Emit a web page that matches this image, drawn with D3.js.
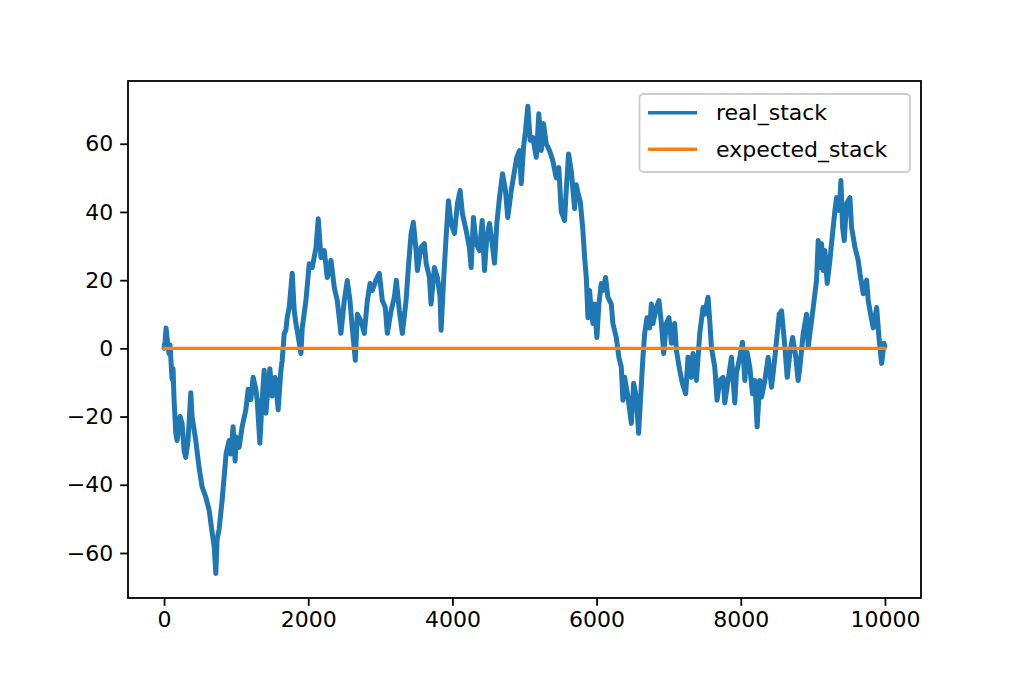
<!DOCTYPE html>
<html>
<head>
<meta charset="utf-8">
<script src="https://cdn.jsdelivr.net/npm/d3@7"></script>
<style>
html,body{margin:0;padding:0;background:#fff;}
text{font-family:"DejaVu Sans",sans-serif;}
</style>
</head>
<body>
<svg id="chart" width="1024" height="683"></svg>
<script>
// ---- data ----
const steps = [0,14,28,42,69,83,111,125,139,163,181,222,250,278,301,333,371,389,440,486,528,579,625,667,695,718,736,764,806,833,861,903,926,958,986,1000,1042,1083,1135,1167,1204,1236,1274,1292,1329,1361,1389,1413,1445,1468,1500,1542,1583,1621,1639,1667,1690,1708,1736,1778,1806,1829,1847,1899,1917,1968,2014,2056,2108,2139,2177,2222,2264,2316,2361,2403,2454,2500,2542,2579,2611,2653,2681,2732,2778,2820,2857,2889,2940,2986,3028,3069,3097,3149,3195,3222,3264,3306,3357,3389,3427,3458,3496,3514,3565,3611,3635,3681,3704,3750,3792,3829,3843,3875,3912,3945,3982,4028,4070,4107,4139,4190,4236,4260,4292,4329,4375,4413,4445,4477,4514,4552,4584,4616,4653,4695,4736,4768,4816,4861,4893,4931,4955,4987,5014,5046,5079,5116,5163,5199,5232,5264,5301,5347,5393,5440,5476,5510,5556,5579,5611,5649,5695,5718,5736,5774,5810,5834,5857,5880,5903,5926,5949,5972,6004,6032,6065,6087,6125,6157,6204,6226,6273,6309,6343,6365,6389,6435,6458,6482,6514,6551,6583,6611,6643,6667,6699,6736,6760,6782,6829,6865,6899,6931,6968,7004,7038,7083,7107,7153,7190,7236,7268,7315,7337,7385,7431,7477,7500,7546,7570,7593,7639,7671,7709,7755,7778,7824,7871,7917,7940,7986,8024,8056,8088,8125,8163,8195,8227,8265,8288,8334,8380,8427,8473,8533,8566,8612,8644,8681,8719,8764,8796,8820,8866,8913,8935,8959,9005,9051,9074,9098,9121,9143,9167,9199,9236,9282,9306,9329,9365,9389,9412,9435,9468,9514,9537,9584,9629,9653,9699,9746,9768,9801,9838,9885,9917,9954,9986,9999];
const realStack = [0,2,6,3,-1.5,1,-9,-6,-15,-25,-27,-20,-22,-30,-32,-27,-13,-20,-27,-35,-40.6,-43.6,-47.4,-54,-58,-66,-56,-53,-44.5,-37.8,-30.8,-27,-31,-23,-33,-26,-29,-23,-18,-12,-15,-8.5,-12,-15.2,-27.8,-15,-6.4,-19,-11,-6,-14,-8.5,-18,-6.4,-3.5,4.4,5.3,9,12,22,11,7.3,5.3,-1.5,6,14,24.8,23.7,29.6,38,26.6,28.7,20.8,25.8,17.9,14,4.4,14,19.9,14,6,-3.5,10,8,4.4,14,19,17,20,22,14,12,4.4,11,15,20,11,4.4,14,23.7,33.6,37,28.7,22.8,29.6,30.7,25,20.8,13,23.7,20.8,15,5.3,19,32.5,43.3,36.6,33.7,42.5,46.3,39.5,34.6,29.6,23.7,38.4,30.7,28.7,37.5,22.8,32.5,36.6,30.7,25,36.6,44.2,51.2,46.3,38.4,46.3,52,56,58,48.3,59,63.8,71,61,61.8,56,68.8,58,65.9,60,58,55,50,53,40,37.5,46.3,57,52,41,48,46,43,34.6,26.6,20.8,9,17,11,7.3,13,3.2,13,19,17,20.8,15,13,7.3,3.2,-2.6,-5.5,-15.2,-8.5,-14.3,-18,-22,-10.2,-14.3,-24.9,-14.3,-2.6,4.4,9,6,13,7.3,12,14,7.3,-1.5,7.3,9,1.5,7.3,-0.6,-6.4,-10.2,-13.3,-2.6,-8.5,-1.5,-9.4,4.4,12,10,15,8,0.3,-5.5,-15.2,-9.4,-8.5,-16,-9.4,-2.6,-16,-7.3,-2.6,1.8,-9.4,-1.2,-5.5,-13.3,-9.4,-23,-9.4,-14.3,-9.4,-2.6,-11.4,-2.6,10,11,0.3,-8.5,-1.5,3.2,-2.6,-9.4,-5.5,4.4,10,0.3,4.4,12,20,31.6,23.7,30.7,22.8,28.7,19,25.8,35.5,40.4,44.2,40.4,49.2,35.5,31.6,42.5,44.2,35.5,29.6,25.8,22,16,20,14,10,6,12,3.2,-4.4,1.5,0.5];
const expectedSteps = [0, 9999];
const expectedStack = [0, 0];
const xTicks = [0, 2000, 4000, 6000, 8000, 10000];
const yTicks = [-60, -40, -20, 0, 20, 40, 60];
const seriesNames = ["real_stack", "expected_stack"];
const seriesColors = ["#1f77b4", "#ff7f0e"];

// ---- layout ----
const L = 128, R = 921, T = 81, B = 598;
const svg = d3.select("#chart");
const x = d3.scaleLinear().domain([-500, 10500]).range([L, R]);
const y = d3.scaleLinear().domain([-73.2, 78.4]).range([B, T]);

svg.append("clipPath").attr("id","clip").append("rect")
  .attr("x", L).attr("y", T).attr("width", R - L).attr("height", B - T);

const line = d3.line().x(d => x(d[0])).y(d => y(d[1]));
const real = steps.map((s, i) => [s, realStack[i]]);
const expected = expectedSteps.map((s, i) => [s, expectedStack[i]]);

const g = svg.append("g").attr("clip-path", "url(#clip)");
g.append("path").datum(real).attr("d", line)
  .attr("fill", "none").attr("stroke", seriesColors[0])
  .attr("stroke-width", 5).attr("stroke-linejoin", "round").attr("stroke-linecap", "round");
g.append("path").datum(expected).attr("d", line)
  .attr("fill", "none").attr("stroke", seriesColors[1])
  .attr("stroke-width", 3.4).attr("stroke-linecap", "square");

// axes
const fs = 22;
const xAxis = d3.axisBottom(x).tickValues(xTicks).tickFormat(d3.format("d")).tickSizeOuter(0).tickSize(7.8).tickPadding(6);
const yAxis = d3.axisLeft(y).tickValues(yTicks).tickFormat(d => d < 0 ? "\u2212" + Math.abs(d) : String(d)).tickSizeOuter(0).tickSize(7.8).tickPadding(7);
const gx = svg.append("g").attr("transform", `translate(0,${B})`).call(xAxis);
const gy = svg.append("g").attr("transform", `translate(${L},0)`).call(yAxis);
[gx, gy].forEach(a => {
  a.select(".domain").remove();
  a.selectAll(".tick line").attr("stroke", "#000").attr("stroke-width", 1.8);
  a.selectAll(".tick text").attr("fill", "#000").style("font-size", fs + "px").style("font-family", "DejaVu Sans");
});

// frame
svg.append("rect").attr("x", L).attr("y", T).attr("width", R - L).attr("height", B - T)
  .attr("fill", "none").attr("stroke", "#000").attr("stroke-width", 1.8);

// legend
const lg = svg.append("g");
lg.append("rect").attr("x", 639.5).attr("y", 94).attr("width", 270.5).attr("height", 78)
  .attr("rx", 4).attr("fill", "#fff").attr("fill-opacity", 0.8)
  .attr("stroke", "#cccccc").attr("stroke-width", 1.8);
const rowY = [112.7, 149.3];
seriesNames.forEach((n, i) => {
  lg.append("line").attr("x1", 648).attr("x2", 697).attr("y1", rowY[i]).attr("y2", rowY[i])
    .attr("stroke", seriesColors[i]).attr("stroke-width", 3.4);
  lg.append("text").attr("x", 716).attr("y", rowY[i]).attr("dy", "0.35em")
    .style("font-size", fs + "px").attr("fill", "#000").text(n);
});
</script>
</body>
</html>
